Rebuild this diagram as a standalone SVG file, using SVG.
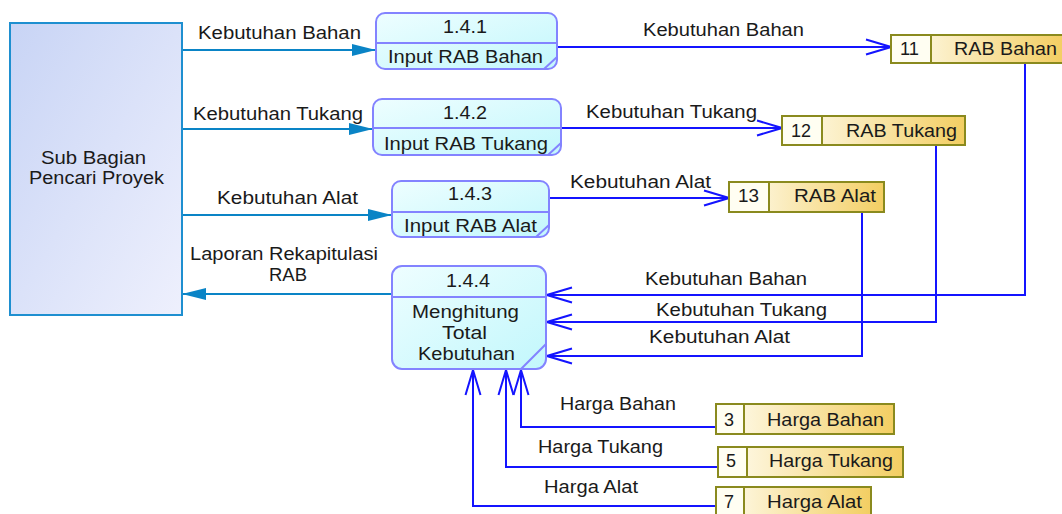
<svg xmlns="http://www.w3.org/2000/svg" width="1062" height="514" viewBox="0 0 1062 514">
  <style>
    text { font-family: "Liberation Sans", Arial, sans-serif; font-size: 17.5px; fill: #1a1a1a; }
    .ent { fill: url(#gEnt); stroke: #1E8FD0; stroke-width: 2; }
    .proc { fill: url(#gProc); stroke: #8383FF; stroke-width: 2; }
    .pline { stroke: #8383FF; stroke-width: 2; fill: none; }
    .store { fill: url(#gStore); stroke: #8A8A1E; stroke-width: 2; }
    .num { fill: #FFFEF2; stroke: #8A8A1E; stroke-width: 2; }
    .flow { fill: none; stroke: #1414FF; stroke-width: 2; }
    .eflow { fill: none; stroke: #0A84C6; stroke-width: 2; }
  </style>
  <defs>
    <linearGradient id="gEnt" x1="0" y1="0" x2="1" y2="1">
      <stop offset="0" stop-color="#C8D4F5"/>
      <stop offset="1" stop-color="#EEF0FD"/>
    </linearGradient>
    <linearGradient id="gProc" x1="0" y1="0" x2="1" y2="1">
      <stop offset="0" stop-color="#EEFEFF"/>
      <stop offset="1" stop-color="#C2F7FC"/>
    </linearGradient>
    <linearGradient id="gStore" x1="0" y1="0" x2="1" y2="0">
      <stop offset="0" stop-color="#FFFDF2"/>
      <stop offset="1" stop-color="#F3CE62"/>
    </linearGradient>
    <marker id="open" markerUnits="userSpaceOnUse" markerWidth="30" markerHeight="20" viewBox="-27 -10 30 20" refX="0" refY="0" orient="auto">
      <path d="M-25,-7.5 L0,0 L-25,7.5" fill="none" stroke="#1414FF" stroke-width="2"/>
    </marker>
    <marker id="solid" markerUnits="userSpaceOnUse" markerWidth="28" markerHeight="16" viewBox="-26 -8 28 16" refX="0" refY="0" orient="auto">
      <path d="M-24,-6 L0,0 L-24,6 Z" fill="#0A84C6"/>
    </marker>
  </defs>

  <!-- connectors -->
  <g id="connectors">
    <path class="eflow" d="M182,50 H376" marker-end="url(#solid)"/>
    <path class="eflow" d="M182,129 H373" marker-end="url(#solid)"/>
    <path class="eflow" d="M182,215 H392" marker-end="url(#solid)"/>
    <path class="eflow" d="M392,294 H182" marker-end="url(#solid)"/>
    <path class="flow" d="M557,47 H891" marker-end="url(#open)"/>
    <path class="flow" d="M561,128 H782" marker-end="url(#open)"/>
    <path class="flow" d="M549,198 H729" marker-end="url(#open)"/>
    <path class="flow" d="M1025,63 V295 H547" marker-end="url(#open)"/>
    <path class="flow" d="M936,145 V322 H547" marker-end="url(#open)"/>
    <path class="flow" d="M862,212 V356 H547" marker-end="url(#open)"/>
    <path class="flow" d="M716,427 H521 V370" marker-end="url(#open)"/>
    <path class="flow" d="M718,467 H506 V370" marker-end="url(#open)"/>
    <path class="flow" d="M716,506 H473 V370" marker-end="url(#open)"/>

    <text x="198" y="39" textLength="163" lengthAdjust="spacingAndGlyphs">Kebutuhan Bahan</text>
    <text x="193" y="120" textLength="170" lengthAdjust="spacingAndGlyphs">Kebutuhan Tukang</text>
    <text x="217" y="204" textLength="141" lengthAdjust="spacingAndGlyphs">Kebutuhan Alat</text>
    <text x="190" y="260" textLength="188" lengthAdjust="spacingAndGlyphs">Laporan Rekapitulasi</text>
    <text x="269" y="281" textLength="38" lengthAdjust="spacingAndGlyphs">RAB</text>
    <text x="643" y="36" textLength="161" lengthAdjust="spacingAndGlyphs">Kebutuhan Bahan</text>
    <text x="586" y="118" textLength="171" lengthAdjust="spacingAndGlyphs">Kebutuhan Tukang</text>
    <text x="570" y="188" textLength="141" lengthAdjust="spacingAndGlyphs">Kebutuhan Alat</text>
    <text x="645" y="285" textLength="162" lengthAdjust="spacingAndGlyphs">Kebutuhan Bahan</text>
    <text x="656" y="316" textLength="171" lengthAdjust="spacingAndGlyphs">Kebutuhan Tukang</text>
    <text x="649" y="343" textLength="141" lengthAdjust="spacingAndGlyphs">Kebutuhan Alat</text>
    <text x="560" y="410" textLength="116" lengthAdjust="spacingAndGlyphs">Harga Bahan</text>
    <text x="538" y="453" textLength="125" lengthAdjust="spacingAndGlyphs">Harga Tukang</text>
    <text x="544" y="493" textLength="94" lengthAdjust="spacingAndGlyphs">Harga Alat</text>
  </g>

  <!-- external entity -->
  <g id="sub-bagian">
    <rect class="ent" x="10" y="23" width="172" height="292"/>
    <text x="41" y="164" textLength="105" lengthAdjust="spacingAndGlyphs">Sub Bagian</text>
    <text x="29" y="184" textLength="135" lengthAdjust="spacingAndGlyphs">Pencari Proyek</text>
  </g>

  <!-- processes -->
  <g id="p141">
    <rect class="proc" x="376" y="13" width="181" height="56" rx="9"/>
    <path class="pline" d="M376,43 H557 M557,57 L544,69"/>
    <text x="443" y="33" textLength="44" lengthAdjust="spacingAndGlyphs">1.4.1</text>
    <text x="388" y="63" textLength="155" lengthAdjust="spacingAndGlyphs">Input RAB Bahan</text>
  </g>
  <g id="p142">
    <rect class="proc" x="373" y="99" width="188" height="56" rx="9"/>
    <path class="pline" d="M373,128 H561 M561,143 L548,155"/>
    <text x="443" y="119" textLength="44" lengthAdjust="spacingAndGlyphs">1.4.2</text>
    <text x="384" y="150" textLength="164" lengthAdjust="spacingAndGlyphs">Input RAB Tukang</text>
  </g>
  <g id="p143">
    <rect class="proc" x="392" y="181" width="157" height="56" rx="9"/>
    <path class="pline" d="M392,212 H549 M549,225 L536,237"/>
    <text x="448" y="200" textLength="44" lengthAdjust="spacingAndGlyphs">1.4.3</text>
    <text x="404" y="232" textLength="133" lengthAdjust="spacingAndGlyphs">Input RAB Alat</text>
  </g>
  <g id="p144">
    <rect class="proc" x="392" y="266" width="154" height="103" rx="10"/>
    <path class="pline" d="M392,297 H546 M546,344 L521,369"/>
    <text x="446" y="287" textLength="44" lengthAdjust="spacingAndGlyphs">1.4.4</text>
    <text x="412" y="318" textLength="107" lengthAdjust="spacingAndGlyphs">Menghitung</text>
    <text x="442" y="339" textLength="45" lengthAdjust="spacingAndGlyphs">Total</text>
    <text x="418" y="360" textLength="97" lengthAdjust="spacingAndGlyphs">Kebutuhan</text>
  </g>

  <!-- data stores -->
  <g id="ds11">
    <rect class="store" x="891" y="35" width="172" height="28"/>
    <rect class="num" x="891" y="35" width="40" height="28"/>
    <text x="900" y="55" textLength="19" lengthAdjust="spacingAndGlyphs">11</text>
    <text x="954" y="55" textLength="103" lengthAdjust="spacingAndGlyphs">RAB Bahan</text>
  </g>
  <g id="ds12">
    <rect class="store" x="782" y="116" width="183" height="29"/>
    <rect class="num" x="782" y="116" width="40" height="29"/>
    <text x="791" y="137" textLength="20" lengthAdjust="spacingAndGlyphs">12</text>
    <text x="846" y="137" textLength="111" lengthAdjust="spacingAndGlyphs">RAB Tukang</text>
  </g>
  <g id="ds13">
    <rect class="store" x="729" y="182" width="155" height="30"/>
    <rect class="num" x="729" y="182" width="40" height="30"/>
    <text x="738" y="202" textLength="21" lengthAdjust="spacingAndGlyphs">13</text>
    <text x="794" y="202" textLength="82" lengthAdjust="spacingAndGlyphs">RAB Alat</text>
  </g>
  <g id="ds3">
    <rect class="store" x="716" y="404" width="178" height="30"/>
    <rect class="num" x="716" y="404" width="28" height="30"/>
    <text x="724" y="426" textLength="10" lengthAdjust="spacingAndGlyphs">3</text>
    <text x="767" y="426" textLength="117" lengthAdjust="spacingAndGlyphs">Harga Bahan</text>
  </g>
  <g id="ds5">
    <rect class="store" x="718" y="447" width="185" height="30"/>
    <rect class="num" x="718" y="447" width="29" height="30"/>
    <text x="726" y="467" textLength="10" lengthAdjust="spacingAndGlyphs">5</text>
    <text x="769" y="467" textLength="124" lengthAdjust="spacingAndGlyphs">Harga Tukang</text>
  </g>
  <g id="ds7">
    <rect class="store" x="716" y="487" width="155" height="31"/>
    <rect class="num" x="716" y="487" width="28" height="31"/>
    <text x="724" y="508" textLength="10" lengthAdjust="spacingAndGlyphs">7</text>
    <text x="767" y="508" textLength="95" lengthAdjust="spacingAndGlyphs">Harga Alat</text>
  </g>
</svg>
